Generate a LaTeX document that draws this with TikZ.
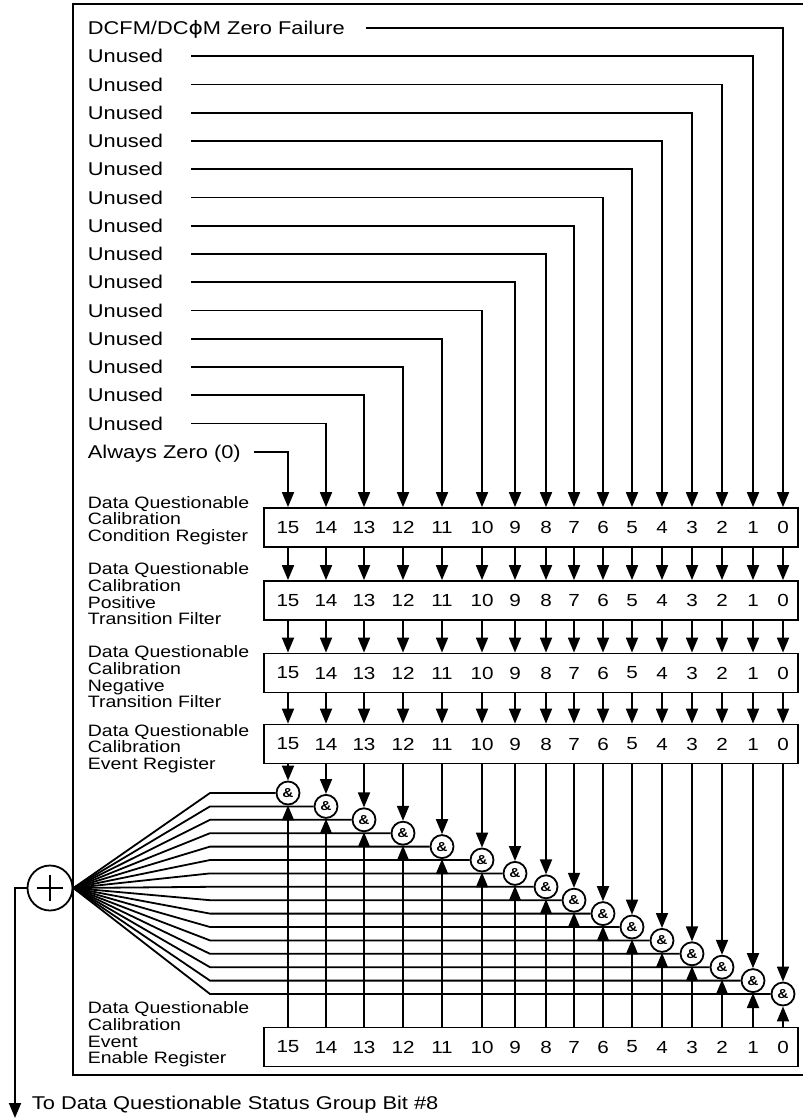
\documentclass[tikz,border=0pt]{standalone}
\usepackage{fontspec}
\setmainfont[FakeStretch=1.18]{Liberation Sans}
\newfontfamily\phifont[FakeStretch=1.18]{DejaVu Sans}
\usetikzlibrary{arrows.meta}

\begin{document}
\begin{tikzpicture}[x=1pt, y=-1pt, line width=1.8pt,
  every node/.style={inner sep=0pt},
  arrow/.style={-{Triangle[length=15pt, width=12pt]}},
  inlabel/.style={anchor=west, font=\fontsize{18.5}{20}\selectfont,
                  text height=13pt, text depth=0pt},
  reglabel/.style={anchor=west, align=left, font=\fontsize{16.5}{16.7}\selectfont},
  regbox/.style={draw, minimum width=534pt, minimum height=39pt},
  bitnum/.style={font=\fontsize{17.5}{18}\selectfont},
  gate/.style={circle, draw, fill=white, minimum size=23pt,
               font=\fontsize{13}{13}\selectfont\bfseries},
  sumnode/.style={circle, draw, minimum size=45pt,
    path picture={\draw[line width=2.4pt]
      ([xshift=-13pt]path picture bounding box.center) -- ([xshift=13pt]path picture bounding box.center)
      ([yshift=-13pt]path picture bounding box.center) -- ([yshift=13pt]path picture bounding box.center);}}
]
  \useasboundingbox (0,0) rectangle (803,1120);
  \draw (73,4) rectangle (806,1075);

  % registers
  \node[regbox] (cond) at (531,527.5) {};
  \node[regbox] (pos) at (531,600.5) {};
  \node[regbox] (neg) at (531,673) {};
  \node[regbox] (evt) at (531,744) {};
  \node[regbox] (enb) at (531,1047) {};
  \foreach \r/\y in {cond/527.5, pos/600.5, neg/673, evt/744, enb/1047}
    \foreach \b/\x in {15/288, 14/326, 13/364, 12/403, 11/442, 10/482, 9/515, 8/546,
                       7/574, 6/603, 5/632, 4/662, 3/692, 2/722, 1/753, 0/783}
      \node[bitnum] (\r-\b) at (\x,\y) {\b};

  \node[reglabel] (condlbl) at (87,520.5) {Data Questionable\\Calibration\\Condition Register};
  \node[reglabel] (poslbl) at (87,594) {Data Questionable\\Calibration\\Positive\\Transition Filter};
  \node[reglabel] (neglbl) at (87,677) {Data Questionable\\Calibration\\Negative\\Transition Filter};
  \node[reglabel] (evtlbl) at (87,748.5) {Data Questionable\\Calibration\\Event Register};
  \node[reglabel] (enblbl) at (87,1034.5) {Data Questionable\\Calibration\\Event\\Enable Register};

  % condition inputs
  \node[inlabel] (in0) at (87,28) {DCFM/DC{\phifont ϕ}M Zero Failure};
  \foreach \i in {1,...,14}
    \node[inlabel] (in\i) at (87,{28+28.25*\i}) {Unused};
  \node[inlabel] (in15) at (87,451.75) {Always Zero (0)};

  \draw[arrow] ([xshift=20pt]in0.east) -| (cond-0 |- cond.north);
  \foreach \i in {1,...,14}
    \draw[arrow] ([xshift=27pt]in\i.east) -| (cond-\i |- cond.north);
  \draw[arrow] ([xshift=12pt]in15.east) -| (cond-15 |- cond.north);

  \foreach \a/\c in {cond/pos, pos/neg, neg/evt}
    \foreach \b in {0,...,15}
      \draw[arrow] (\a-\b |- \a.south) -- (\c-\b |- \c.north);

  % enable gates and summary
  \node[sumnode] (sum) at (50,888) {};
  \coordinate (fan) at (210,888);
  \foreach \b/\x in {15/288, 14/326, 13/364, 12/403, 11/442, 10/482, 9/515, 8/546,
                     7/574, 6/603, 5/632, 4/662, 3/692, 2/722, 1/753, 0/783} {
    \node[gate] (g\b) at (\x,{793+13.4*(15-\b)}) {\&};
    \draw[arrow] (g\b |- evt.south) -- (g\b.north);
    \draw[arrow] (g\b |- enb.north) -- (g\b.south);
    \draw (g\b.west) -- (g\b.west -| fan) -- (sum.east);
  }

  \node[anchor=west, font=\fontsize{18.5}{20}\selectfont] (out) at (31,1105)
    {To Data Questionable Status Group Bit \#8};
  \coordinate (outend) at (15,1118);
  \draw[arrow] (sum.west) -| (outend);
\end{tikzpicture}
\end{document}
